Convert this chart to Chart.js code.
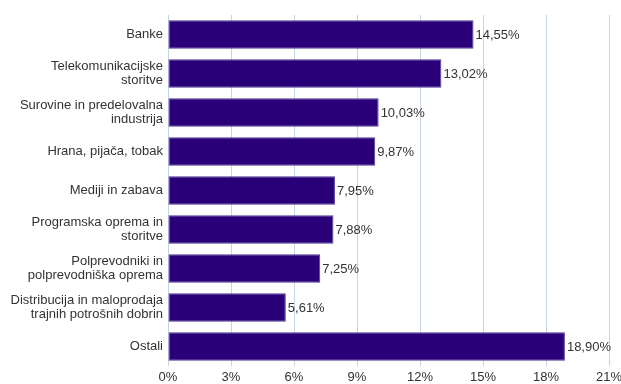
<!DOCTYPE html>
<html>
<head>
<meta charset="utf-8">
<script src="https://cdn.jsdelivr.net/npm/chart.js@4"></script>
<style>
    html, body { margin: 0; padding: 0; background: #fff; }
    #wrap { width: 621px; height: 384px; }
</style>
</head>
<body>
<div id="wrap"><canvas id="sectorShare"></canvas></div>
<script>
// =================== data =======================
const categories = [
    'Banke',
    ['Telekomunikacijske', 'storitve'],
    ['Surovine in predelovalna', 'industrija'],
    'Hrana, pijača, tobak',
    'Mediji in zabava',
    ['Programska oprema in', 'storitve'],
    ['Polprevodniki in', 'polprevodniška oprema'],
    ['Distribucija in maloprodaja', 'trajnih potrošnih dobrin'],
    'Ostali'
];
const shares = [14.55, 13.02, 10.03, 9.87, 7.95, 7.88, 7.25, 5.61, 18.90];
const xTicks = [0, 3, 6, 9, 12, 15, 18, 21];

// =================== helper functions =======================
const FONT = '"Liberation Sans", Arial, sans-serif';

function formatPercent(value) {
    return value.toFixed(2).replace('.', ',') + '%';
}

// value labels right of each bar
const valueLabels = {
    id: 'valueLabels',
    afterDatasetsDraw(chart) {
        const ctx = chart.ctx;
        const meta = chart.getDatasetMeta(0);
        ctx.save();
        ctx.font = '13px ' + FONT;
        ctx.fillStyle = '#333333';
        ctx.textAlign = 'left';
        ctx.textBaseline = 'middle';
        meta.data.forEach(function(bar, i) {
            ctx.fillText(formatPercent(shares[i]), bar.x + 2, bar.y + 1);
        });
        ctx.restore();
    }
};

function sectorShare() {
    const ctx = document.getElementById('sectorShare');
    const myChart = new Chart(ctx, {
        type: 'bar',
        data: {
            labels: categories,
            datasets: [{
                data: shares,
                backgroundColor: '#2a0078',
                borderColor: '#4b3b94',
                borderWidth: 1,
                borderSkipped: false,
                barPercentage: 0.73,
                categoryPercentage: 1
            }]
        },
        options: {
            indexAxis: 'y',
            responsive: true,
            maintainAspectRatio: false,
            animation: false,
            layout: {
                padding: { top: 15, right: 0, left: 0, bottom: 0 }
            },
            plugins: {
                legend: { display: false },
                tooltip: { enabled: false }
            },
            scales: {
                x: {
                    min: 0,
                    max: 21,
                    afterBuildTicks: function(scale) {
                        scale.ticks = xTicks.map(v => ({ value: v }));
                    },
                    afterFit: function(scale) {
                        scale.height = 18;
                        scale.paddingLeft = 0;
                        scale.paddingRight = 12;
                    },
                    grid: {
                        color: '#c6d3e1',
                        drawTicks: false
                    },
                    border: { display: false },
                    ticks: {
                        padding: 4,
                        color: '#333333',
                        font: { family: FONT, size: 13 },
                        callback: function(value) {
                            return value + '%';
                        }
                    }
                },
                y: {
                    afterFit: function(scale) {
                        scale.width = 168;
                    },
                    grid: { display: false, drawTicks: false },
                    border: { display: false },
                    ticks: {
                        padding: 5,
                        color: '#333333',
                        font: { family: FONT, size: 13, lineHeight: 1.1 }
                    }
                }
            }
        },
        plugins: [valueLabels]
    });
    return myChart;
}

sectorShare();
</script>
</body>
</html>
